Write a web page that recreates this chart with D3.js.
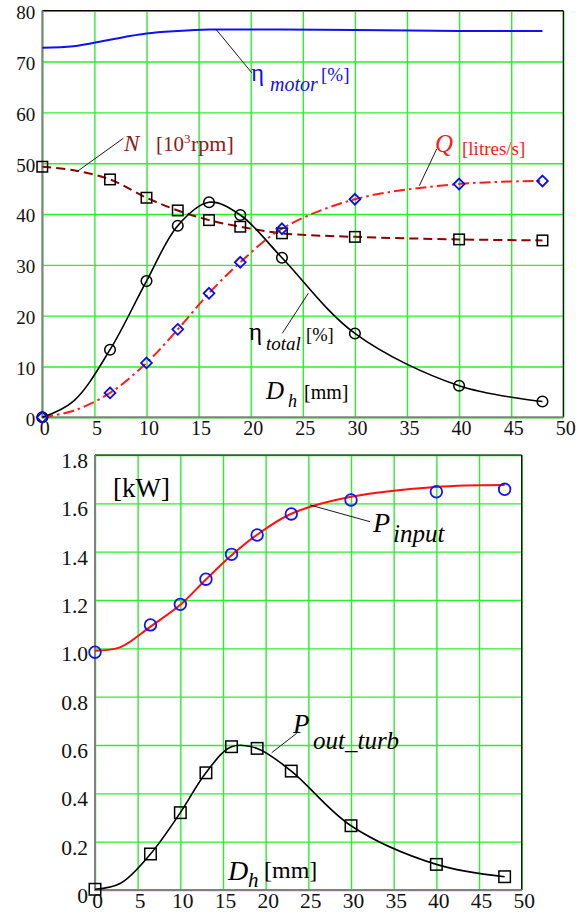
<!DOCTYPE html>
<html>
<head>
<meta charset="utf-8">
<script src="https://cdn.jsdelivr.net/npm/d3@7"></script>
<style>
  body { margin: 0; background: #fff; }
  svg { display: block; }
</style>
</head>
<body>
<svg id="chart" width="580" height="919"></svg>
<script>
// Hole diameter D_h [mm] at which each test point was measured
const dh = [0, 6.5, 10, 13, 16, 19, 23, 30, 40, 48];
// Upper panel measured points
const etaTotal = [0, 13.3, 26.8, 37.7, 42.3, 39.8, 31.4, 16.5, 6.2, 3.1];      // [%]
const speedN = [49.3, 46.8, 43.2, 40.7, 38.8, 37.5, 36.2, 35.5, 35.0, 34.8];   // [10^3 rpm]
const flowQ = [0, 4.8, 10.7, 17.3, 24.4, 30.5, 37.1, 42.9, 45.9, 46.5];        // [litres/s]
// Lower panel measured points [kW]
const pInput = [0.984, 1.097, 1.182, 1.286, 1.389, 1.469, 1.556, 1.614, 1.648, 1.658];
const pOutTurb = [0.003, 0.149, 0.32, 0.485, 0.593, 0.586, 0.492, 0.266, 0.106, 0.055];

// Smoothed trend curves, sampled at these diameters
const curveDh = [0, 3, 6.5, 10, 13, 16, 19, 23, 30, 40, 48];
const etaMotorCurve = [72.7, 73.0, 74.3, 75.5, 76.0, 76.3, 76.3, 76.3, 76.2, 76.0, 76.0];
const etaTotalCurve = [0, 3.2, 13.3, 26.8, 37.7, 42.3, 39.8, 31.4, 16.5, 6.2, 3.1];
const speedNCurve = [49.3, 48.6, 46.8, 43.2, 40.7, 38.8, 37.5, 36.2, 35.5, 35.0, 34.8];
const flowQCurve = [0, 1.3, 4.8, 10.7, 17.3, 24.4, 30.5, 37.1, 42.9, 45.9, 46.5];
const pInputCurve = [0.99, 1.005, 1.09, 1.18, 1.285, 1.385, 1.47, 1.557, 1.627, 1.668, 1.676];
const pOutTurbCurve = [0.003, 0.028, 0.149, 0.32, 0.485, 0.593, 0.586, 0.492, 0.266, 0.106, 0.055];

// Ticks
const xTicks = [0, 5, 10, 15, 20, 25, 30, 35, 40, 45, 50];
const yTicksTop = [0, 10, 20, 30, 40, 50, 60, 70, 80];
const yTicksBottom = [0, 0.2, 0.4, 0.6, 0.8, 1.0, 1.2, 1.4, 1.6, 1.8];
const yTickLabelsBottom = ["0", "0.2", "0.4", "0.6", "0.8", "1.0", "1.2", "1.4", "1.6", "1.8"];

const FONT = "'Liberation Serif', 'Times New Roman', Times, serif";
const GRID = "#2bef2b";
const svg = d3.select("#chart");

function panel(box, yDomain, yTicks, yFmt, fsY, fsX, yLabelDy, xLabelDy, xPad) {
  const x = d3.scaleLinear().domain([0, 50]).range([box.l, box.r]);
  const y = d3.scaleLinear().domain(yDomain).range([box.b, box.t]);
  const w = box.r - box.l, h = box.b - box.t;

  const gx = svg.append("g").attr("transform", `translate(0,${box.b})`)
    .call(d3.axisBottom(x).tickValues(xTicks).tickSizeInner(-h).tickSizeOuter(0).tickPadding(xPad).tickFormat(d3.format("d")));
  const gy = svg.append("g").attr("transform", `translate(${box.l},0)`)
    .call(d3.axisLeft(y).tickValues(yTicks).tickSizeInner(-w).tickSizeOuter(0).tickPadding(box.lp).tickFormat(yFmt));
  [[gx, fsX], [gy, fsY]].forEach(([g, fs]) => {
    g.select(".domain").remove();
    g.attr("font-family", FONT).attr("font-size", fs);
    g.selectAll(".tick line").attr("stroke", GRID).attr("stroke-width", 1.4);
    g.selectAll(".tick text").attr("fill", "#111")
      .style("font-family", FONT).style("font-size", fs + "px");
  });
  gx.selectAll(".tick text").attr("dy", xLabelDy).attr("dx", 2);
  gy.selectAll(".tick text").attr("dy", yLabelDy);

  // frame: black top/right, grey left/bottom axes
  svg.append("line").attr("x1", box.l).attr("x2", box.r).attr("y1", box.t).attr("y2", box.t).attr("stroke", "#000").attr("stroke-width", 1.2);
  svg.append("line").attr("x1", box.r).attr("x2", box.r).attr("y1", box.t).attr("y2", box.b).attr("stroke", "#000").attr("stroke-width", 1.2);
  svg.append("line").attr("x1", box.l).attr("x2", box.l).attr("y1", box.t).attr("y2", box.b + 1).attr("stroke", "#808080").attr("stroke-width", 2);
  svg.append("line").attr("x1", box.l - 1).attr("x2", box.r).attr("y1", box.b).attr("y2", box.b).attr("stroke", "#808080").attr("stroke-width", 2);
  return { x, y };
}

function curve(sc, xs, ys, color, width, dash) {
  const line = d3.line().x((d, i) => sc.x(xs[i])).y(d => sc.y(d)).curve(d3.curveCatmullRom.alpha(0.5));
  svg.append("path").datum(ys).attr("d", line).attr("fill", "none")
    .attr("stroke", color).attr("stroke-width", width)
    .attr("stroke-dasharray", dash || null).attr("stroke-linejoin", "round");
}

function squares(sc, xs, ys, size, sw) {
  svg.append("g").selectAll("rect").data(ys).join("rect")
    .attr("x", (d, i) => sc.x(xs[i]) - size / 2).attr("y", d => sc.y(d) - size / 2)
    .attr("width", size).attr("height", size)
    .attr("fill", "none").attr("stroke", "#000").attr("stroke-width", sw);
}
function circles(sc, xs, ys, r, color, sw) {
  svg.append("g").selectAll("circle").data(ys).join("circle")
    .attr("cx", (d, i) => sc.x(xs[i])).attr("cy", d => sc.y(d)).attr("r", r)
    .attr("fill", "none").attr("stroke", color).attr("stroke-width", sw);
}
function diamonds(sc, xs, ys, r, color, sw) {
  svg.append("g").selectAll("path").data(ys).join("path")
    .attr("d", (d, i) => {
      const cx = sc.x(xs[i]), cy = sc.y(d);
      return `M${cx},${cy - r}L${cx + r},${cy}L${cx},${cy + r}L${cx - r},${cy}Z`;
    })
    .attr("fill", "none").attr("stroke", color).attr("stroke-width", sw);
}
function leader(x1, y1, x2, y2) {
  svg.append("line").attr("x1", x1).attr("y1", y1).attr("x2", x2).attr("y2", y2)
    .attr("stroke", "#000").attr("stroke-width", 0.9);
}
function txt(x, y, s, size, color, italic) {
  svg.append("text").attr("x", x).attr("y", y).text(s)
    .style("font-family", FONT)
    .style("font-size", size + "px").attr("fill", color)
    .style("font-style", italic ? "italic" : "normal");
}

// ---------- Upper panel: efficiencies, speed and flow ----------
const upper = panel({ l: 42.3, r: 563.3, t: 10.7, b: 417.3, lp: 7 }, [0, 80], yTicksTop, d3.format("d"), 19, 20, "0.42em", "0.76em", 3);

curve(upper, curveDh, etaMotorCurve, "#1010f0", 2);
curve(upper, curveDh, speedNCurve, "#8b0000", 2, "9,5");
curve(upper, curveDh, flowQCurve, "#ff1a1a", 2, "11,4,2.5,4");
curve(upper, curveDh, etaTotalCurve, "#000", 1.6);

squares(upper, dh, speedN, 10.5, 1.5);
circles(upper, dh, etaTotal, 5.3, "#000", 1.5);
diamonds(upper, dh, flowQ, 5.4, "#0a0af5", 1.8);

// series labels
leader(216, 29.3, 251.7, 72.7);
txt(251, 81, "η", 25, "#1010f0", false);
txt(270, 91, "motor", 20, "#1010f0", true);
txt(321, 81, "[%]", 19, "#1010f0", false);

leader(123.3, 138.3, 78.3, 170.7);
txt(124, 151, "N", 23, "#8b1a1a", true);
txt(156, 151, "[10", 21, "#8b1a1a", false);
txt(184, 143, "3", 13, "#8b1a1a", false);
txt(191, 151, "rpm]", 22, "#8b1a1a", false);

leader(436.7, 149, 419.3, 185.7);
txt(435, 152, "Q", 25, "#ff1a1a", true);
txt(462, 155, "[litres/s]", 19, "#ff1a1a", false);

leader(282.3, 333.3, 308.3, 293.3);
txt(249, 340, "η", 25, "#000", false);
txt(266, 350, "total", 19, "#000", true);
txt(306, 341, "[%]", 18.5, "#000", false);

txt(266, 399, "D", 25, "#000", true);
txt(288, 407, "h", 18, "#000", true);
txt(304, 399, "[mm]", 20, "#000", false);

// ---------- Lower panel: power ----------
const lower = panel({ l: 95, r: 521.7, t: 455, b: 890, lp: 7 }, [0, 1.8], yTicksBottom, (d, i) => yTickLabelsBottom[i], 21.5, 21.5, "0.58em", "0.72em", 3);

curve(lower, curveDh, pInputCurve, "#ff1010", 2);
curve(lower, curveDh, pOutTurbCurve, "#000", 1.6);

circles(lower, dh, pInput, 5.8, "#1414f0", 1.8);
squares(lower, dh, pOutTurb, 11.5, 1.5);

txt(113, 497, "[kW]", 27, "#000", false);

leader(310, 505, 370, 521.7);
txt(373, 532, "P", 28, "#000", true);
txt(393, 542, "input", 25, "#000", true);

leader(271.7, 752.7, 296.7, 733.3);
txt(293, 733, "P", 27, "#000", true);
txt(313, 749, "out_turb", 25, "#000", true);

txt(228, 880, "D", 28, "#000", true);
txt(248, 887, "h", 21, "#000", true);
txt(264, 878, "[mm]", 24, "#000", false);
</script>
</body>
</html>
